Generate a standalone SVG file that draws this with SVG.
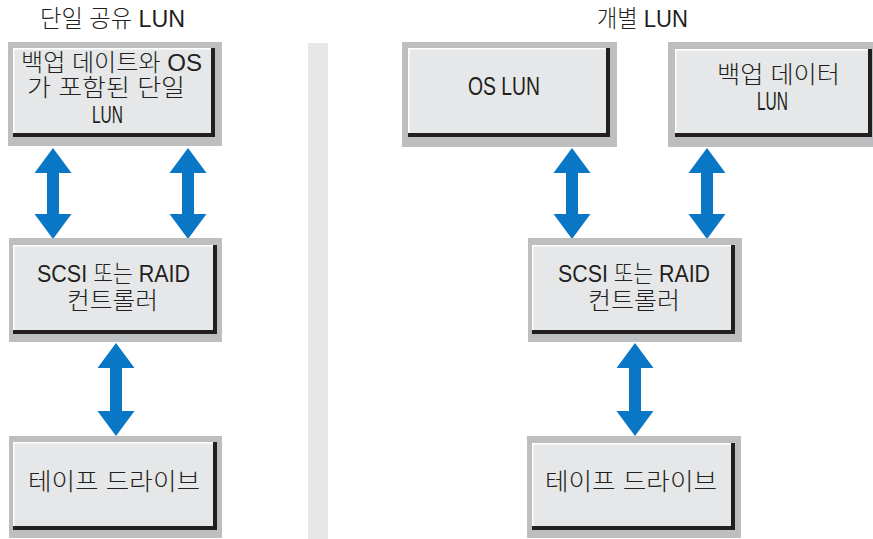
<svg xmlns="http://www.w3.org/2000/svg" width="873" height="539" viewBox="0 0 873 539">
<style>
.frame{fill:#bcbec0}
.shadow{fill:#231f20}
.face{fill:#e6e7e8}
.hl{fill:none;stroke:#ffffff;stroke-width:1.5}
.arrow{fill:#0a77c6}
text{font-family:"Liberation Sans","Noto Sans CJK KR",sans-serif;font-size:24px;font-weight:300;fill:#231f20}
.l{font-size:26px}
.s{font-size:23px}
</style>
<rect x="308" y="43" width="20" height="496" fill="#e6e7e8"/>
<text x="40" y="27" textLength="145" lengthAdjust="spacingAndGlyphs">단일 공유 LUN</text>
<text x="597" y="27" textLength="91" lengthAdjust="spacingAndGlyphs">개별 LUN</text>

<g id="connectors">
<polygon class="arrow" points="53,148 71.5,173 59,173 59,214 71.5,214 53,239 34.5,214 47,214 47,173 34.5,173"/>
<polygon class="arrow" points="188,148 206.5,173 194,173 194,214 206.5,214 188,239 169.5,214 182,214 182,173 169.5,173"/>
<polygon class="arrow" points="116,343 134.5,368 122,368 122,411 134.5,411 116,436 97.5,411 110,411 110,368 97.5,368"/>
<polygon class="arrow" points="572,148 590.5,173 578,173 578,214 590.5,214 572,239 553.5,214 566,214 566,173 553.5,173"/>
<polygon class="arrow" points="707,148 725.5,173 713,173 713,214 725.5,214 707,239 688.5,214 701,214 701,173 688.5,173"/>
<polygon class="arrow" points="635,343 653.5,368 641,368 641,411 653.5,411 635,436 616.5,411 629,411 629,368 616.5,368"/>
</g>

<g id="box-single-lun">
<rect class="frame" x="8" y="42" width="214" height="104"/>
<rect class="shadow" x="13" y="48" width="202" height="89"/>
<rect class="face" x="13" y="48" width="198" height="85"/>
<polyline class="hl" points="13.75,133 13.75,48.75 211,48.75"/>
<text x="21" y="71" textLength="181" lengthAdjust="spacingAndGlyphs">백업 데이트와 OS</text>
<text x="27" y="96" textLength="158" lengthAdjust="spacingAndGlyphs">가 포함된 단일</text>
<text x="92" y="123" textLength="31" lengthAdjust="spacingAndGlyphs" class="s">LUN</text>
</g>

<g id="box-controller-left">
<rect class="frame" x="9" y="238" width="213" height="104"/>
<rect class="shadow" x="13" y="245" width="204" height="89"/>
<rect class="face" x="13" y="245" width="200" height="85"/>
<polyline class="hl" points="13.75,330 13.75,245.75 213,245.75"/>
<text x="37" y="282" textLength="153" lengthAdjust="spacingAndGlyphs">SCSI 또는 RAID</text>
<text x="67" y="309" textLength="91" lengthAdjust="spacingAndGlyphs">컨트롤러</text>
</g>

<g id="box-tape-left">
<rect class="frame" x="9" y="436" width="213" height="102"/>
<rect class="shadow" x="13" y="442" width="204" height="88"/>
<rect class="face" x="13" y="442" width="200" height="84"/>
<polyline class="hl" points="13.75,526 13.75,442.75 213,442.75"/>
<text x="28" y="490" textLength="172" lengthAdjust="spacingAndGlyphs">테이프 드라이브</text>
</g>

<g id="box-os-lun">
<rect class="frame" x="402" y="42" width="215" height="105"/>
<rect class="shadow" x="408" y="48" width="202" height="89"/>
<rect class="face" x="408" y="48" width="198" height="85"/>
<polyline class="hl" points="408.75,133 408.75,48.75 606,48.75"/>
<text x="468" y="95" textLength="72" lengthAdjust="spacingAndGlyphs" class="l">OS LUN</text>
</g>

<g id="box-backup-lun">
<rect class="frame" x="668" y="42" width="205" height="105"/>
<rect class="shadow" x="675" y="49" width="197" height="88"/>
<rect class="face" x="675" y="49" width="193" height="84"/>
<polyline class="hl" points="675.75,133 675.75,49.75 868,49.75"/>
<text x="717" y="83" textLength="123" lengthAdjust="spacingAndGlyphs">백업 데이터</text>
<text x="757" y="110" textLength="31" lengthAdjust="spacingAndGlyphs" class="l">LUN</text>
</g>

<g id="box-controller-right">
<rect class="frame" x="528" y="238" width="214" height="104"/>
<rect class="shadow" x="532" y="245" width="203" height="89"/>
<rect class="face" x="532" y="245" width="199" height="85"/>
<polyline class="hl" points="532.75,330 532.75,245.75 731,245.75"/>
<text x="558" y="282" textLength="152" lengthAdjust="spacingAndGlyphs">SCSI 또는 RAID</text>
<text x="588" y="309" textLength="92" lengthAdjust="spacingAndGlyphs">컨트롤러</text>
</g>

<g id="box-tape-right">
<rect class="frame" x="527" y="436" width="214" height="102"/>
<rect class="shadow" x="532" y="443" width="203" height="87"/>
<rect class="face" x="532" y="443" width="199" height="83"/>
<polyline class="hl" points="532.75,526 532.75,443.75 731,443.75"/>
<text x="545" y="490" textLength="172" lengthAdjust="spacingAndGlyphs">테이프 드라이브</text>
</g>
</svg>
